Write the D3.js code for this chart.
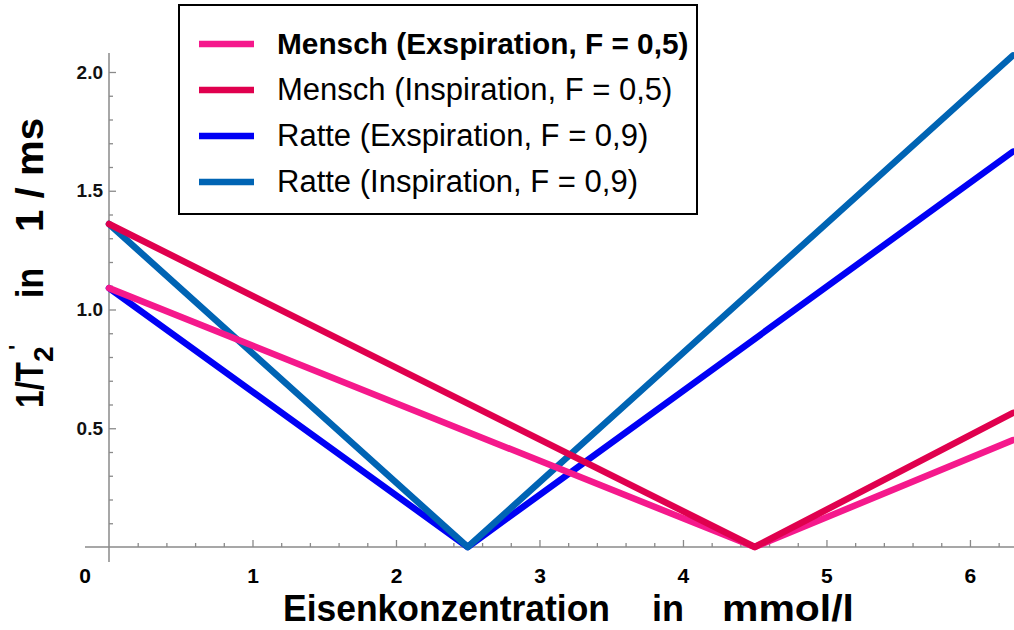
<!DOCTYPE html>
<html>
<head>
<meta charset="utf-8">
<script src="https://cdn.jsdelivr.net/npm/d3@7"></script>
<style>
  body { margin: 0; background: #fff; }
  svg { display: block; font-family: "Liberation Sans", Arial, sans-serif; }
</style>
</head>
<body>
<div class="chart"></div>
<script>
// series names and colours (legend order)
var seriesNames = [
  "Mensch (Exspiration, F = 0,5)",
  "Mensch (Inspiration, F = 0,5)",
  "Ratte (Exspiration, F = 0,9)",
  "Ratte (Inspiration, F = 0,9)"
];
var seriesColors = ["#f5198c", "#e0004e", "#0000f5", "#0064b4"];

// [Eisenkonzentration mmol/l, 1/T2' 1/ms]
var menschExsp = [[0, 1.09], [4.5, 0], [6.3, 0.45]];
var menschInsp = [[0, 1.36], [4.5, 0], [6.3, 0.565]];
var ratteExsp = [[0, 1.09], [2.5, 0], [6.3, 1.665]];
var ratteInsp = [[0, 1.36], [2.5, 0], [6.3, 2.07]];

var xTicks = [1, 2, 3, 4, 5, 6];
var yTicks = [0.5, 1.0, 1.5, 2.0];
var yTickLabels = ["0.5", "1.0", "1.5", "2.0"];

var svgWidth = 1014;
var svgHeight = 630;
var narrowFont = "'Liberation Sans Narrow', 'Liberation Sans', Arial, sans-serif";

var svg = d3.select(".chart")
  .append("svg")
  .attr("width", svgWidth)
  .attr("height", svgHeight);

var x = d3.scaleLinear().domain([0, 6.3]).range([109, 1013]);
var y = d3.scaleLinear().domain([0, 2.08]).range([547, 53]);

var axisColor = "#8a8a8a";

// axis lines
svg.append("line")
  .attr("x1", 85).attr("x2", svgWidth)
  .attr("y1", y(0)).attr("y2", y(0))
  .attr("stroke", axisColor).attr("stroke-width", 1.5);

svg.append("line")
  .attr("x1", x(0)).attr("x2", x(0))
  .attr("y1", y(2.08)).attr("y2", y(0) + 15)
  .attr("stroke", axisColor).attr("stroke-width", 1.5);

// x ticks
var xMinor = d3.range(1, 32).map(function(i) { return i * 0.2; })
  .filter(function(v) { return Math.abs(v - Math.round(v)) > 0.01; });

var xMinorAxis = svg.append("g")
  .attr("transform", "translate(0," + y(0) + ")")
  .call(d3.axisBottom(x).tickValues(xMinor).tickSize(-4).tickFormat(""));
xMinorAxis.select(".domain").remove();
xMinorAxis.selectAll("line").attr("stroke", axisColor).attr("stroke-width", 1.3);

var xAxis = svg.append("g")
  .attr("transform", "translate(0," + y(0) + ")")
  .call(d3.axisBottom(x).tickValues(xTicks).tickSize(-7).tickFormat(d3.format("d")));
xAxis.select(".domain").remove();
xAxis.selectAll("line").attr("stroke", axisColor).attr("stroke-width", 1.3);
xAxis.selectAll("text")
  .attr("y", 36).attr("dy", null)
  .attr("fill", "#000")
  .style("font-family", narrowFont)
  .style("font-size", "21px")
  .style("font-weight", "bold");

// origin label
svg.append("text")
  .attr("x", x(0) - 24).attr("y", y(0) + 36)
  .attr("text-anchor", "middle")
  .style("font-family", narrowFont)
  .style("font-size", "21px")
  .style("font-weight", "bold")
  .text("0");

// y ticks
var yMinor = d3.range(1, 21).map(function(i) { return i * 0.1; })
  .filter(function(v) { return Math.abs(v * 2 - Math.round(v * 2)) > 0.01; });

var yMinorAxis = svg.append("g")
  .attr("transform", "translate(" + x(0) + ",0)")
  .call(d3.axisLeft(y).tickValues(yMinor).tickSize(-4).tickFormat(""));
yMinorAxis.select(".domain").remove();
yMinorAxis.selectAll("line").attr("stroke", axisColor).attr("stroke-width", 1.3);

var yAxis = svg.append("g")
  .attr("transform", "translate(" + x(0) + ",0)")
  .call(d3.axisLeft(y).tickValues(yTicks).tickSize(-7)
    .tickFormat(function(d, i) { return yTickLabels[i]; }));
yAxis.select(".domain").remove();
yAxis.selectAll("line").attr("stroke", axisColor).attr("stroke-width", 1.3);
yAxis.selectAll("text")
  .attr("x", -6)
  .attr("fill", "#111")
  .style("font-family", "'Liberation Sans', Arial, sans-serif")
  .style("font-size", "19px")
  .style("font-weight", "bold");

// data lines
var line = d3.line()
  .x(function(d) { return x(d[0]); })
  .y(function(d) { return y(d[1]); });

var drawOrder = [
  { data: ratteExsp, color: seriesColors[2] },
  { data: ratteInsp, color: seriesColors[3] },
  { data: menschExsp, color: seriesColors[0] },
  { data: menschInsp, color: seriesColors[1] }
];

svg.append("g")
  .selectAll("path")
  .data(drawOrder)
  .enter()
  .append("path")
  .attr("d", function(d) { return line(d.data); })
  .attr("fill", "none")
  .attr("stroke", function(d) { return d.color; })
  .attr("stroke-width", 6.5)
  .attr("stroke-linecap", "round")
  .attr("stroke-linejoin", "round");

// legend
var legend = svg.append("g");
legend.append("rect")
  .attr("x", 179).attr("y", 5)
  .attr("width", 518).attr("height", 209)
  .attr("fill", "#fff")
  .attr("stroke", "#000")
  .attr("stroke-width", 2);

var rows = legend.selectAll(".row")
  .data(seriesNames)
  .enter()
  .append("g")
  .attr("class", "row")
  .attr("transform", function(d, i) { return "translate(0," + (44 + i * 46) + ")"; });

rows.append("line")
  .attr("x1", 199).attr("x2", 254)
  .attr("stroke", function(d, i) { return seriesColors[i]; })
  .attr("stroke-width", 6.5);

rows.append("text")
  .attr("x", 277)
  .attr("y", 10)
  .style("font-size", function(d, i) { return i === 0 ? "29.8px" : "31px"; })
  .style("font-weight", function(d, i) { return i === 0 ? "bold" : "normal"; })
  .text(function(d) { return d; });

// axis titles
svg.append("text")
  .attr("y", 621)
  .style("font-family", narrowFont)
  .style("font-size", "36px")
  .style("font-weight", "bold")
  .call(function(t) {
    t.append("tspan").attr("x", 283).attr("textLength", 327)
      .attr("lengthAdjust", "spacingAndGlyphs").text("Eisenkonzentration");
    t.append("tspan").attr("x", 652).attr("textLength", 32)
      .attr("lengthAdjust", "spacingAndGlyphs").text("in");
    t.append("tspan").attr("x", 722).attr("textLength", 132)
      .attr("lengthAdjust", "spacingAndGlyphs").text("mmol/l");
  });

var yTitle = svg.append("g")
  .attr("transform", "translate(43,0) rotate(-90)")
  .append("text")
  .style("font-size", "38px")
  .style("font-weight", "bold");

yTitle.append("tspan").attr("x", -408).attr("y", 0)
  .attr("textLength", 46).attr("lengthAdjust", "spacingAndGlyphs").text("1/T");
yTitle.append("tspan").attr("x", -362).attr("y", 10).style("font-size", "28px").text("2");
yTitle.append("tspan").attr("x", -350).attr("y", -19).style("font-size", "22px").text("'");
yTitle.append("tspan").attr("x", -298).attr("y", 0)
  .attr("textLength", 30).attr("lengthAdjust", "spacingAndGlyphs").text("in");
yTitle.append("tspan").attr("x", -232).attr("y", 0)
  .attr("textLength", 114).attr("lengthAdjust", "spacingAndGlyphs").text("1 / ms");
</script>
</body>
</html>
